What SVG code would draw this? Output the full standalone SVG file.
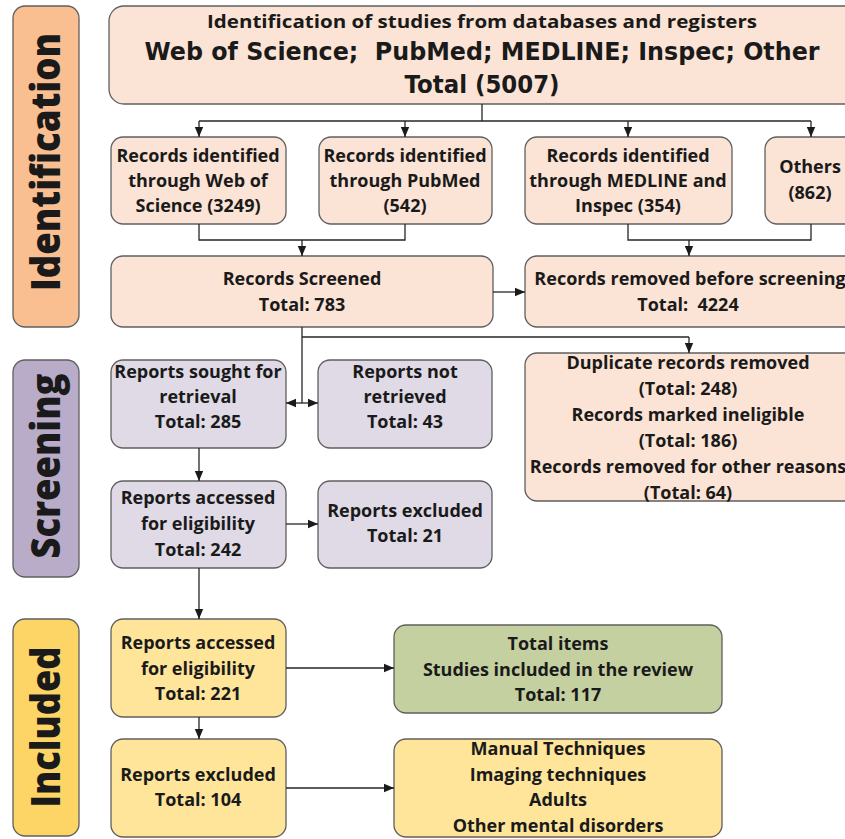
<svg xmlns="http://www.w3.org/2000/svg" width="845" height="839" viewBox="0 0 845 839">
  <style>
    .box { stroke: #5f5f5f; stroke-width: 1.3; }
    .peach { fill: #fbe4d5; }
    .lilac { fill: #dfdae6; }
    .gold { fill: #fee59a; }
    .olive { fill: #c5d0a0; }
    .t { font-family: "Open Sans", "Liberation Sans", sans-serif; font-weight: bold; font-size: 18px; fill: #1a1a1a; text-anchor: middle; }
    .big { font-family: "DejaVu Sans", sans-serif; font-weight: bold; font-size: 24px; fill: #1a1a1a; text-anchor: middle; }
    .phase { font-family: "Open Sans", "Liberation Sans", sans-serif; font-weight: 800; font-size: 40px; fill: #1a1a1a; text-anchor: middle; }
    .conn line, .conn polyline { stroke: #262626; stroke-width: 1.3; fill: none; }
    .arr { marker-end: url(#head); }
  </style>
  <defs>
    <marker id="head" markerUnits="userSpaceOnUse" markerWidth="10" markerHeight="10" viewBox="0 0 10 10" refX="10" refY="5" orient="auto">
      <path d="M0,0.8 L10,5 L0,9.2 Z" fill="#1a1a1a"/>
    </marker>
  </defs>
  <rect width="845" height="839" fill="#ffffff"/>

  <!-- phase labels -->
  <g id="phase-identification">
    <rect class="box" x="13" y="6" width="66" height="321" rx="12" fill="#f9bf91"/>
    <text class="phase" transform="translate(60,162) rotate(-90)" textLength="258" lengthAdjust="spacingAndGlyphs">Identification</text>
  </g>
  <g id="phase-screening">
    <rect class="box" x="13" y="360" width="66" height="217" rx="12" fill="#b9acc8"/>
    <text class="phase" transform="translate(60,466) rotate(-90)" textLength="185" lengthAdjust="spacingAndGlyphs">Screening</text>
  </g>
  <g id="phase-included">
    <rect class="box" x="13" y="619" width="66" height="217" rx="12" fill="#fdd567"/>
    <text class="phase" transform="translate(60,727) rotate(-90)" textLength="161" lengthAdjust="spacingAndGlyphs">Included</text>
  </g>

  <!-- identification -->
  <g id="sources">
    <rect class="box peach" x="109" y="6" width="760" height="98" rx="15"/>
    <text class="t" x="482" y="28" style="font-size:18.5px" textLength="550" lengthAdjust="spacingAndGlyphs">Identification of studies from databases and registers</text>
    <text class="big" x="482" y="60" xml:space="preserve" textLength="675" lengthAdjust="spacingAndGlyphs">Web of Science;  PubMed; MEDLINE; Inspec; Other</text>
    <text class="big" x="482" y="93" textLength="155" lengthAdjust="spacingAndGlyphs">Total (5007)</text>
  </g>
  <g id="wos">
    <rect class="box peach" x="111" y="137" width="175" height="87" rx="12"/>
    <text class="t" x="198" y="162">Records identified</text>
    <text class="t" x="198" y="187">through Web of</text>
    <text class="t" x="198" y="212">Science (3249)</text>
  </g>
  <g id="pubmed">
    <rect class="box peach" x="319" y="137" width="173" height="87" rx="12"/>
    <text class="t" x="405" y="162">Records identified</text>
    <text class="t" x="405" y="187">through PubMed</text>
    <text class="t" x="405" y="212">(542)</text>
  </g>
  <g id="medline-inspec">
    <rect class="box peach" x="525" y="137" width="207" height="87" rx="12"/>
    <text class="t" x="628" y="162">Records identified</text>
    <text class="t" x="628" y="187">through MEDLINE and</text>
    <text class="t" x="628" y="212">Inspec (354)</text>
  </g>
  <g id="others">
    <rect class="box peach" x="765" y="137" width="100" height="87" rx="12"/>
    <text class="t" x="810" y="173">Others</text>
    <text class="t" x="810" y="199">(862)</text>
  </g>
  <g id="screened">
    <rect class="box peach" x="111" y="256" width="382" height="71" rx="12"/>
    <text class="t" x="302" y="285">Records Screened</text>
    <text class="t" x="302" y="311">Total: 783</text>
  </g>
  <g id="removed">
    <rect class="box peach" x="525" y="256" width="340" height="71" rx="12"/>
    <text class="t" x="690" y="285">Records removed before screening</text>
    <text class="t" x="688" y="311" xml:space="preserve">Total:  4224</text>
  </g>
  <g id="removed-detail">
    <rect class="box peach" x="525" y="353" width="340" height="148" rx="12"/>
    <text class="t" x="688" y="369">Duplicate records removed</text>
    <text class="t" x="688" y="395">(Total: 248)</text>
    <text class="t" x="688" y="421">Records marked ineligible</text>
    <text class="t" x="688" y="447">(Total: 186)</text>
    <text class="t" x="688" y="473">Records removed for other reasons</text>
    <text class="t" x="688" y="499">(Total: 64)</text>
  </g>

  <!-- screening -->
  <g id="sought">
    <rect class="box lilac" x="111" y="360" width="175" height="88" rx="12"/>
    <text class="t" x="198" y="378">Reports sought for</text>
    <text class="t" x="198" y="403">retrieval</text>
    <text class="t" x="198" y="428">Total: 285</text>
  </g>
  <g id="not-retrieved">
    <rect class="box lilac" x="318" y="360" width="174" height="88" rx="12"/>
    <text class="t" x="405" y="378">Reports not</text>
    <text class="t" x="405" y="403">retrieved</text>
    <text class="t" x="405" y="428">Total: 43</text>
  </g>
  <g id="assessed-screening">
    <rect class="box lilac" x="111" y="481" width="175" height="87" rx="12"/>
    <text class="t" x="198" y="504">Reports accessed</text>
    <text class="t" x="198" y="530">for eligibility</text>
    <text class="t" x="198" y="556">Total: 242</text>
  </g>
  <g id="excluded-screening">
    <rect class="box lilac" x="318" y="481" width="174" height="87" rx="12"/>
    <text class="t" x="405" y="517">Reports excluded</text>
    <text class="t" x="405" y="542">Total: 21</text>
  </g>

  <!-- included -->
  <g id="assessed-included">
    <rect class="box gold" x="111" y="619" width="175" height="98" rx="12"/>
    <text class="t" x="198" y="649">Reports accessed</text>
    <text class="t" x="198" y="675">for eligibility</text>
    <text class="t" x="198" y="700">Total: 221</text>
  </g>
  <g id="excluded-included">
    <rect class="box gold" x="111" y="739" width="175" height="98" rx="12"/>
    <text class="t" x="198" y="781">Reports excluded</text>
    <text class="t" x="198" y="806">Total: 104</text>
  </g>
  <g id="total-items">
    <rect class="box olive" x="394" y="625" width="328" height="88" rx="12"/>
    <text class="t" x="558" y="650">Total items</text>
    <text class="t" x="558" y="676">Studies included in the review</text>
    <text class="t" x="558" y="701">Total: 117</text>
  </g>
  <g id="exclusion-reasons">
    <rect class="box gold" x="394" y="739" width="328" height="98" rx="12"/>
    <text class="t" x="558" y="755">Manual Techniques</text>
    <text class="t" x="558" y="781">Imaging techniques</text>
    <text class="t" x="558" y="806">Adults</text>
    <text class="t" x="558" y="832">Other mental disorders</text>
  </g>

  <!-- connectors -->
  <g id="connectors" class="conn">
    <line x1="482" y1="104" x2="482" y2="121"/>
    <line x1="199" y1="121" x2="811" y2="121"/>
    <line class="arr" x1="199" y1="121" x2="199" y2="137"/>
    <line class="arr" x1="405" y1="121" x2="405" y2="137"/>
    <line class="arr" x1="628" y1="121" x2="628" y2="137"/>
    <line class="arr" x1="811" y1="121" x2="811" y2="137"/>

    <polyline points="199,224 199,240 405,240 405,224"/>
    <line class="arr" x1="302" y1="240" x2="302" y2="256"/>
    <polyline points="628,224 628,240 811,240 811,224"/>
    <line class="arr" x1="689" y1="240" x2="689" y2="256"/>

    <line class="arr" x1="493" y1="292" x2="525" y2="292"/>

    <line x1="302" y1="327" x2="302" y2="403"/>
    <line x1="302" y1="337" x2="689" y2="337"/>
    <line class="arr" x1="689" y1="337" x2="689" y2="353"/>
    <line class="arr" x1="302" y1="403" x2="286" y2="403"/>
    <line class="arr" x1="302" y1="403" x2="318" y2="403"/>

    <line class="arr" x1="199" y1="448" x2="199" y2="481"/>
    <line class="arr" x1="286" y1="524" x2="318" y2="524"/>
    <line class="arr" x1="199" y1="568" x2="199" y2="619"/>

    <line class="arr" x1="286" y1="668" x2="394" y2="668"/>
    <line class="arr" x1="199" y1="717" x2="199" y2="739"/>
    <line class="arr" x1="286" y1="788" x2="394" y2="788"/>
  </g>
</svg>
